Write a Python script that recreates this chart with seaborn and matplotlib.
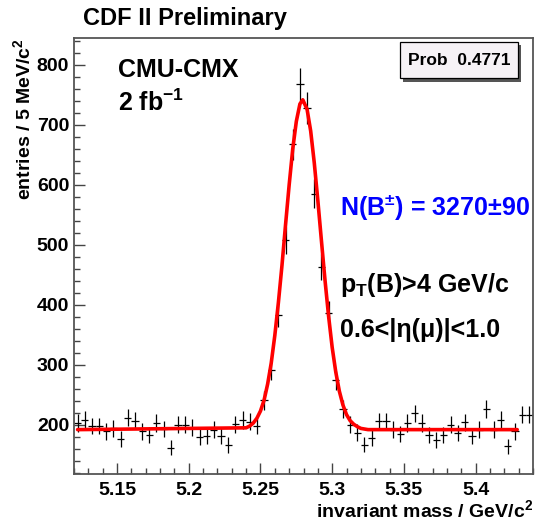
import numpy as np
import pandas as pd
import seaborn as sns
import matplotlib.pyplot as plt
from matplotlib.ticker import MultipleLocator
from matplotlib.patches import Rectangle

# histogram: 5 MeV bins from 5.12 to 5.44
bin_lo = 5.12
bin_width = 0.005
counts = [203, 208, 198, 198, 189, 194, 176, 212, 207, 189,
          183, 203, 193, 162, 200, 200, 195, 180, 182, 192,
          181, 166, 201, 208, 205, 198, 241, 291, 383, 508,
          668, 768, 728, 585, 463, 386, 274, 226, 200, 187,
          167, 178, 206, 206, 192, 185, 203, 219, 203, 183,
          175, 183, 200, 186, 204, 181, 192, 226, 192, 208,
          164, 189, 217, 217]

# fit curve
fit_mass = [5.1225, 5.2400, 5.2425, 5.2450, 5.2475, 5.2500, 5.2525, 5.2550,
            5.2575, 5.2600, 5.2625, 5.2650, 5.2675, 5.2700, 5.2725, 5.2750,
            5.2775, 5.2795, 5.2825, 5.2850, 5.2875, 5.2900, 5.2925, 5.2950,
            5.2975, 5.3000, 5.3025, 5.3050, 5.3075, 5.3100, 5.3125, 5.3150,
            5.3175, 5.3200, 5.3250, 5.4290]
fit_vals = [192, 195, 198, 203, 211, 223, 241, 268,
            303, 349, 404, 466, 534, 600, 660, 706,
            735, 742, 726, 690, 637, 574, 507, 441,
            381, 329, 288, 256, 233, 217, 207, 201,
            197, 194, 192, 192]

prob_text = "Prob  0.4771"

sns.set_theme(style="ticks")
plt.rcParams['font.family'] = ['Liberation Sans', 'DejaVu Sans']
plt.rcParams['font.weight'] = 'bold'
plt.rcParams['text.color'] = 'black'
plt.rcParams['axes.labelcolor'] = 'black'
plt.rcParams['xtick.color'] = 'black'
plt.rcParams['ytick.color'] = 'black'
plt.rcParams['mathtext.fontset'] = 'custom'
plt.rcParams['mathtext.rm'] = 'Liberation Sans:bold'
plt.rcParams['mathtext.bf'] = 'Liberation Sans:bold'
plt.rcParams['mathtext.it'] = 'Liberation Sans:bold'
plt.rcParams['mathtext.sf'] = 'Liberation Sans:bold'

n_bins = len(counts)
centers = bin_lo + bin_width * (np.arange(n_bins) + 0.5)
df = pd.DataFrame({"mass": centers, "entries": counts})
df_fit = pd.DataFrame({"mass": fit_mass, "entries": fit_vals})

fig = plt.figure(figsize=(5.35, 5.23), dpi=100)
ax = fig.add_axes([74 / 535, 49 / 523, 459 / 535, 436 / 523])

ax.errorbar(df["mass"], df["entries"], xerr=bin_width / 2,
            yerr=np.sqrt(df["entries"]), fmt="none", ecolor="black",
            elinewidth=0.9, capsize=0, zorder=2)
sns.lineplot(data=df_fit, x="mass", y="entries", color="red", lw=2.6,
             ax=ax, zorder=3)

ax.set_xlim(5.12, 5.44)
ax.set_ylim(118, 845)
ax.xaxis.set_minor_locator(MultipleLocator(0.01))
ax.yaxis.set_minor_locator(MultipleLocator(20))
ax.set_xticks([5.15, 5.2, 5.25, 5.3, 5.35, 5.4])
ax.set_xticklabels(["5.15", "5.2", "5.25", "5.3", "5.35", "5.4"])
ax.set_yticks([200, 300, 400, 500, 600, 700, 800])
ax.tick_params(which="both", direction="in", top=False, right=False,
               labelsize=14, color="#444444", labelcolor="black")
ax.tick_params(which="major", length=8, width=1)
ax.tick_params(which="minor", length=4, width=1)
ax.tick_params(axis="x", pad=6)
for s in ax.spines.values():
    s.set_color("#555555")
    s.set_linewidth(1.3)

ax.set_xlabel("invariant mass / GeV/c$^{2}$", fontsize=14,
              fontweight="bold", loc="right", labelpad=0)
ax.set_ylabel("entries / 5 MeV/c$^{2}$", fontsize=14,
              fontweight="bold", loc="top", labelpad=2)

fig.text(83 / 535, 1 - 18 / 523, "CDF II Preliminary", fontsize=17,
         fontweight="bold", va="center", ha="left")

ax.text(0.096, 0.927, "CMU-CMX", transform=ax.transAxes, fontsize=18,
        fontweight="bold", va="center")
ax.text(0.096, 0.851, "2 fb$^{-1}$", transform=ax.transAxes, fontsize=18,
        fontweight="bold", va="center")
ax.text(0.580, 0.612, r"N(B$^{\pm}$) = 3270$\pm$90", transform=ax.transAxes,
        fontsize=18, fontweight="bold", va="center", color="#0000ff")
ax.text(0.580, 0.433, r"p$_{\mathrm{T}}$(B)>4 GeV/c", transform=ax.transAxes,
        fontsize=18, fontweight="bold", va="center")
ax.text(0.580, 0.330, "0.6<|η(μ)|<1.0", transform=ax.transAxes,
        fontsize=18, fontweight="bold", va="center")

# Prob box with shadow
bx, by, bw, bh = 0.710, 0.908, 0.257, 0.083
ax.add_patch(Rectangle((bx + 0.007, by - 0.008), bw, bh, transform=ax.transAxes,
                       facecolor="#555555", edgecolor="none", zorder=4,
                       clip_on=False))
ax.add_patch(Rectangle((bx, by), bw, bh, transform=ax.transAxes,
                       facecolor="#f6f2f6", edgecolor="black", lw=0.9,
                       zorder=5, clip_on=False))
ax.text(bx + bw / 2, by + bh / 2, prob_text, transform=ax.transAxes,
        fontsize=12.5, fontweight="bold", ha="center", va="center", zorder=6)

fig.savefig("out.png", dpi=100, facecolor="white")
